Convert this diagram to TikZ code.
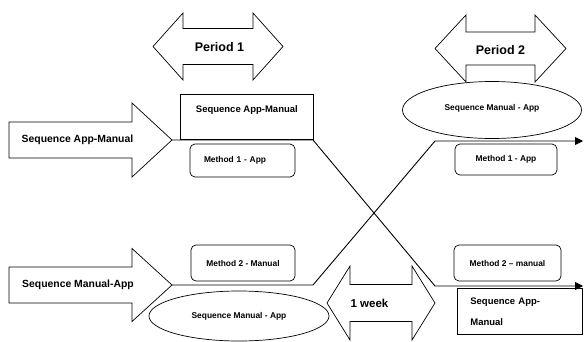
\documentclass[tikz,border=0pt]{standalone}
\usepackage{fontspec}
\setmainfont{Liberation Sans}
\usepackage{tikz}
\usetikzlibrary{arrows.meta}
\usetikzlibrary{positioning,shapes.geometric}
\tikzset{
  shapeline/.style={draw=black,line width=0.7pt,fill=white},
  flow/.style={line width=0.9pt,-{Triangle[length=8pt,width=8pt]}},
  bigtxt/.style={font=\fontsize{10.4}{12}\selectfont\bfseries,inner sep=0pt},
  pertxt/.style={font=\fontsize{12.5}{14}\selectfont\bfseries,inner sep=0pt},
  midtxt/.style={font=\fontsize{9.5}{11}\selectfont\bfseries,inner sep=0pt},
  smalltxt/.style={font=\fontsize{8.4}{10}\selectfont\bfseries},
  methodbox/.style={shapeline,smalltxt,rounded corners=5pt,inner sep=0pt},
  seqellipse/.style={shapeline,smalltxt,ellipse,inner sep=0pt}
}
% fat single arrow: name, tail x, tip x, mid y, shaft half, head half, head length
\newcommand{\fatarrow}[7]{%
  \draw[shapeline] ({#2},{#4-#5}) -- ({#3-#7},{#4-#5}) -- ({#3-#7},{#4-#6})
    -- ({#3},{#4}) -- ({#3-#7},{#4+#6}) -- ({#3-#7},{#4+#5})
    -- ({#2},{#4+#5}) -- cycle;
  \coordinate (#1) at ({#3},{#4});%
}
% double arrow: left tip x, right tip x, mid y, shaft half, head half, head length
\newcommand{\spanarrow}[6]{%
  \draw[shapeline] ({#1},{#3}) -- ({#1+#6},{#3-#5}) -- ({#1+#6},{#3-#4})
    -- ({#2-#6},{#3-#4}) -- ({#2-#6},{#3-#5}) -- ({#2},{#3})
    -- ({#2-#6},{#3+#5}) -- ({#2-#6},{#3+#4}) -- ({#1+#6},{#3+#4})
    -- ({#1+#6},{#3+#5}) -- cycle;%
}

\begin{document}
\begin{tikzpicture}[x=1pt,y=-1pt]
  \useasboundingbox (0,0) rectangle (584,341);

  % periods
  \spanarrow{153}{283}{46.5}{18}{33.5}{30}
  \node[pertxt] (periodA) at (219.5,47) {Period 1};
  \spanarrow{435}{566}{48.5}{16.5}{33.5}{31}
  \node[pertxt] (periodB) at (500.5,50) {Period 2};
  \spanarrow{327}{435}{303}{18.5}{37}{23}
  \node[pertxt,font=\fontsize{11.5}{13}\selectfont\bfseries] (week) at (369.5,303) {1 week};

  % the two sequences coming in
  \fatarrow{amTip}{9}{172}{140}{18}{37}{40}
  \node[bigtxt] (amText) at (77.5,140) {Sequence App-Manual};
  \fatarrow{maTip}{9}{172}{285}{18}{36.5}{40}
  \node[bigtxt] (maText) at (78,285) {Sequence Manual-App};

  % period 1 boxes
  \node[shapeline,minimum width=133pt,minimum height=45pt,anchor=north west]
    (topRect) at (180,94) {};
  \node[midtxt,below=11pt of topRect.north] (topRectText) {Sequence App-Manual};
  \node[methodbox,minimum width=105pt,minimum height=33pt,text width=77pt,
    inner xsep=14pt,align=left] (mOneLeft) at (242.5,160.5) {Method 1 - App};
  \node[methodbox,minimum width=104pt,minimum height=36pt] (mTwoLeft)
    at (243,263) {Method 2 - Manual};
  \node[seqellipse,minimum width=180pt,minimum height=50pt] (ellLeft)
    at (239,316) {Sequence Manual - App};

  % period 2 boxes
  \node[seqellipse,minimum width=179pt,minimum height=57pt,text depth=6pt] (ellRight)
    at (492,110) {Sequence Manual - App};
  \node[methodbox,minimum width=102pt,minimum height=31pt] (mOneRight)
    at (506,159.5) {Method 1 - App};
  \node[methodbox,minimum width=107pt,minimum height=36pt] (mTwoRight)
    at (507.5,263) {Method 2 -- manual};
  \node[shapeline,midtxt,minimum width=125pt,minimum height=46pt,
    text width=99pt,inner xsep=13pt,inner ysep=4pt,align=left,anchor=north west]
    (botRect) at (457,288) {Sequence App-\\[10pt]Manual};

  % crossing over
  \coordinate (amKnee) at (313,140);
  \coordinate (amBend) at (435,286);
  \coordinate (amEnd) at (583,286);
  \coordinate (maKnee) at (313,285);
  \coordinate (maBend) at (435,141);
  \coordinate (maEnd) at (583,141);
  \draw[flow] (amTip) -- (amKnee) -- (amBend) -- (amEnd);
  \draw[flow] (maTip) -- (maKnee) -- (maBend) -- (maEnd);
\end{tikzpicture}
\end{document}
